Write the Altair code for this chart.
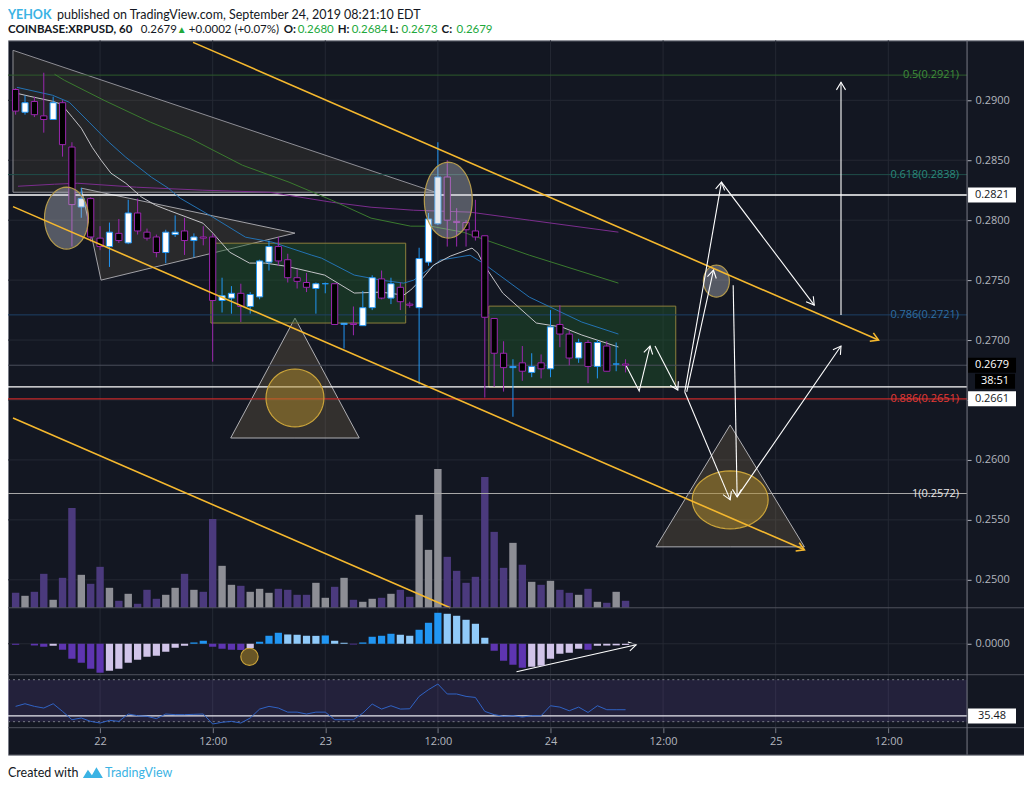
import math
import altair as alt
import pandas as pd

# ------------------------------------------------------------------ data
# hourly candles, first candle = Sep 21 15:00 ; hours counted from Sep 22 00:00
FIRST_HOUR = -9
opens = [0.2909, 0.2890, 0.2899, 0.2887, 0.2884, 0.2898, 0.2861, 0.2811, 0.2818, 0.2785,
         0.2778, 0.2789, 0.2781, 0.2806, 0.2790, 0.2786, 0.2773, 0.2788, 0.2791, 0.2783,
         0.2786, 0.2786, 0.2733, 0.2735, 0.2739, 0.2728, 0.2736, 0.2765, 0.2778, 0.2767,
         0.2752, 0.2748, 0.2743, 0.2747, 0.2747, 0.2713, 0.2714, 0.2712, 0.2727, 0.2751,
         0.2735, 0.2744, 0.2730, 0.2727, 0.2765, 0.2797, 0.2836, 0.2799, 0.2798, 0.2791,
         0.2787, 0.2718, 0.2689, 0.2677, 0.2681, 0.2673, 0.2681, 0.2676, 0.2713, 0.2705,
         0.2685, 0.2698, 0.2678, 0.2695, 0.2680, 0.2680]
highs = [0.2910, 0.2904, 0.2903, 0.2923, 0.2903, 0.2900, 0.2865, 0.2827, 0.2819, 0.2795,
         0.2798, 0.2801, 0.2817, 0.2818, 0.2793, 0.2788, 0.2792, 0.2804, 0.2802, 0.2789,
         0.2795, 0.2789, 0.2752, 0.2745, 0.2747, 0.2740, 0.2767, 0.2783, 0.2786, 0.2772,
         0.2759, 0.2756, 0.2748, 0.2748, 0.2747, 0.2714, 0.2728, 0.2741, 0.2754, 0.2758,
         0.2752, 0.2748, 0.2732, 0.2777, 0.2806, 0.2865, 0.2850, 0.2810, 0.2800, 0.2817,
         0.2787, 0.2718, 0.2699, 0.2684, 0.2695, 0.2689, 0.2688, 0.2725, 0.2729, 0.2708,
         0.2701, 0.2700, 0.2700, 0.2699, 0.2698, 0.2684]
lows = [0.2888, 0.2888, 0.2886, 0.2873, 0.2884, 0.2853, 0.2778, 0.2802, 0.2782, 0.2775,
        0.2761, 0.2781, 0.2780, 0.2788, 0.2783, 0.2769, 0.2764, 0.2786, 0.2771, 0.2769,
        0.2779, 0.2682, 0.2723, 0.2722, 0.2715, 0.2722, 0.2734, 0.2758, 0.2762, 0.2748,
        0.2743, 0.2740, 0.2722, 0.2739, 0.2713, 0.2693, 0.2704, 0.2712, 0.2725, 0.2734,
        0.2730, 0.2725, 0.2727, 0.2663, 0.2762, 0.2796, 0.2778, 0.2778, 0.2778, 0.2783,
        0.2652, 0.2661, 0.2657, 0.2636, 0.2666, 0.2669, 0.2668, 0.2669, 0.2694, 0.2679,
        0.2681, 0.2664, 0.2668, 0.2674, 0.2674, 0.2673]
closes = [0.2891, 0.2898, 0.2888, 0.2884, 0.2898, 0.2863, 0.2813, 0.2818, 0.2786, 0.2778,
          0.2790, 0.2783, 0.2806, 0.2791, 0.2785, 0.2773, 0.2790, 0.2790, 0.2783, 0.2786,
          0.2785, 0.2733, 0.2737, 0.2739, 0.2728, 0.2738, 0.2766, 0.2778, 0.2766, 0.2752,
          0.2749, 0.2744, 0.2747, 0.2747, 0.2713, 0.2714, 0.2713, 0.2727, 0.2752, 0.2735,
          0.2747, 0.2732, 0.2729, 0.2768, 0.2801, 0.2836, 0.2800, 0.2798, 0.2792, 0.2786,
          0.2719, 0.2689, 0.2677, 0.2678, 0.2674, 0.2678, 0.2676, 0.2711, 0.2705, 0.2685,
          0.2698, 0.2678, 0.2698, 0.2674, 0.2680, 0.2679]
# relative volume
volumes = [15, 12, 16, 34, 8, 30, 100, 33, 24, 41, 20, 7, 14, 4, 18, 9, 13, 20, 34, 18,
           16, 89, 42, 23, 22, 16, 19, 15, 19, 18, 13, 13, 25, 10, 21, 30, 8, 6, 9, 10,
           14, 18, 11, 93, 58, 139, 51, 37, 25, 31, 131, 76, 40, 65, 43, 26, 23, 27, 18, 15,
           13, 19, 6, 5, 16, 7]
# MACD histogram (x 1e-5)
macd_hist = [-1, 0, -1.7, -3, -2, -6, -15, -19, -25, -29, -27, -25, -19, -16, -13, -12, -8, -4, -2, 1.3,
             3, -3, -5, -6, -6.2, -4.3, 2, 8, 11, 9.3, 9, 8, 7.9, 8.3, 3, 1, -0.7, 1.3, 7, 8,
             10, 9, 8, 14, 21, 31, 30, 28, 24, 20, 6, -7, -17, -21, -24, -23, -22, -15, -10, -9,
             -5, -6, -2, -1.8, -1.6, -1.2]
rsi_values = [44.6, 47.1, 44.6, 43.0, 47.1, 39.8, 31.9, 33.5, 30.3, 28.7, 31.3, 30.3, 37.3, 35.7, 35.1,
              32.9, 37.3, 36.7, 36.7, 37.0, 37.3, 27.8, 29.4, 30.3, 28.7, 33.5, 42.0, 44.6, 43.0, 39.1,
              39.1, 37.3, 39.1, 39.1, 31.9, 31.9, 31.9, 38.2, 46.8, 42.0, 45.2, 42.0, 42.3, 54.1, 60.5,
              65.9, 56.4, 56.4, 54.1, 53.1, 39.8, 36.7, 35.1, 35.7, 34.4, 35.7, 35.7, 45.2, 43.9, 40.4,
              43.9, 38.8, 45.2, 41.4, 41.4, 41.4]

# moving averages (hour, price)
ma_fast_h = [-8.86, -7.48, -5.06, -4.11, -2.95, -2.0, -0.84, 0.11, 1.16, 2.74, 4.43, 5.90, 7.27, 10.96,
             12.02, 13.81, 15.92, 17.60, 19.71, 21.19, 22.56, 23.93, 27.09, 29.94, 32.36, 33.10, 34.47,
             35.53, 37.32, 39.64, 40.27, 40.80, 42.91, 46.49, 49.23, 51.34, 55.24]
ma_fast_p = [0.29058, 0.29033, 0.28992, 0.28967, 0.28858, 0.28767, 0.28608, 0.2850, 0.28392, 0.28308,
             0.28192, 0.28125, 0.28083, 0.27975, 0.27892, 0.27733, 0.27642, 0.27642, 0.27617, 0.27592,
             0.27567, 0.27542, 0.27392, 0.2740, 0.27375, 0.27417, 0.27525, 0.27625, 0.2770, 0.27767,
             0.27725, 0.27642, 0.27392, 0.27142, 0.27108, 0.27042, 0.26942]
ma_mid_h = [-8.86, -5.06, -3.27, -1.16, 0.95, 2.74, 5.48, 7.27, 8.54, 12.02, 15.50, 18.34, 22.56, 23.61,
            27.09, 29.94, 32.36, 33.42, 34.89, 36.26, 39.43, 40.80, 45.75, 51.34, 55.24]
ma_mid_p = [0.29108, 0.29042, 0.28983, 0.28817, 0.2865, 0.28525, 0.28358, 0.28267, 0.28183, 0.28025,
            0.27858, 0.27817, 0.27708, 0.27683, 0.27542, 0.2750, 0.27475, 0.2750, 0.27583, 0.27667,
            0.27708, 0.27642, 0.27358, 0.2715, 0.2705]
ma_slow_h = [-4.85, -3.80, 0.42, 5.38, 9.59, 15.18, 20.14, 24.67, 28.88, 33.10, 35.21, 38.69, 45.75, 55.24]
ma_slow_p = [0.29217, 0.29167, 0.2900, 0.28817, 0.28683, 0.28458, 0.28317, 0.28167, 0.28017, 0.2795,
             0.2795, 0.2790, 0.27708, 0.27475]
ma_long_h = [-8.75, -4.85, -2.42, 3.90, 10.96, 18.03, 24.67, 28.88, 33.42, 39.43, 45.75, 55.24]
ma_long_p = [0.28283, 0.2830, 0.28308, 0.28275, 0.2825, 0.28233, 0.2815, 0.28108, 0.28083, 0.28067,
             0.2800, 0.2790]

# axis ticks
time_ticks = [0, 12, 24, 36, 48, 60, 72, 84]
time_labels = ["22", "12:00", "23", "12:00", "24", "12:00", "25", "12:00"]
price_ticks = [0.250, 0.255, 0.260, 0.265, 0.270, 0.275, 0.280, 0.285, 0.290]

# horizontal levels
level_prices = [0.2921, 0.2838, 0.2721, 0.2572, 0.2679, 0.2821, 0.2661, 0.2651]
level_colors = ["#2e5a2c", "#1f4e49", "#1d4166", "#a8a8a8", "#4a4e5a", "#ffffff", "#ffffff", "#c62828"]
level_widths = [1, 1, 1, 1, 1, 1.3, 1.3, 1.3]
fib_labels = ["0.5(0.2921)", "0.618(0.2838)", "0.786(0.2721)", "0.886(0.2651)", "1(0.2572)"]
fib_label_prices = [0.2921, 0.2838, 0.2721, 0.2651, 0.2572]
fib_label_colors = ["#3f8f3a", "#2a8a7c", "#2f6fa5", "#e53935", "#e6e6e6"]

# drawings (hour, price)
channel_lines = [[(9.91, 0.29483), (82.96, 0.2700)],
                 [(-9.28, 0.28113), (75.06, 0.2525)],
                 [(-9.28, 0.2635), (37.32, 0.24767)]]
channel_heads = [True, True, False]
arrow_lines = [[(56.08, 0.26783), (57.45, 0.26575), (58.61, 0.2695)],
               [(59.14, 0.2695), (61.57, 0.26583)],
               [(62.31, 0.26567), (66.22, 0.28317)],
               [(66.22, 0.28317), (76.11, 0.27292)],
               [(62.52, 0.26567), (65.37, 0.27583)],
               [(67.47, 0.27458), (67.89, 0.25692)],
               [(62.31, 0.26567), (67.15, 0.25667)],
               [(67.89, 0.25692), (78.96, 0.2695)],
               [(78.96, 0.27208), (78.96, 0.2915)]]
macd_arrow = [(44.38, -28), (57.14, -1)]

rect_h1 = [11.81, 41.43]
rect_h2 = [32.57, 61.35]
rect_p1 = [0.27808, 0.27283]
rect_p2 = [0.27142, 0.26608]

# shaded polygons: x points with top / bottom price
poly_id = ["big", "big", "small", "small", "small", "t1", "t1", "t1", "t2", "t2", "t2"]
poly_h = [-9.28, 35.74, -2.0, 0.105, 20.77, 13.92, 20.77, 27.62, 59.25, 67.15, 75.06]
poly_top = [0.29417, 0.28233, 0.28267, 0.28232, 0.27892, 0.26183, 0.27183, 0.26183, 0.25275, 0.26292, 0.25275]
poly_bot = [0.28233, 0.28233, 0.28267, 0.2750, 0.27892, 0.26183, 0.26183, 0.26183, 0.25275, 0.25275, 0.25275]

# ellipses: centre (hour, price), radii in px
ell_h = [-3.58, 37.11, 65.68, 20.77, 67.15]
ell_p = [0.28017, 0.28167, 0.27492, 0.26517, 0.25667]
ell_rx = [22, 24, 13, 29, 38]
ell_ry = [31, 38, 16, 29, 29]
ell_kind = ["gray", "gray", "gray", "gold", "gold"]

# ------------------------------------------------------------------ layout constants
W, H = 1017, 715
AXIS_X = 960
P_BOT, M_BOT, R_BOT = 568, 635, 688
X_MIN, X_MAX = -9.28, 97.93
P_MIN, P_MAX = 0.247667, 0.295
BG = "#131722"
GRID = "#242833"
TXT = "#b2b5be"
FONT = "Open Sans"
HFONT = "Lato"
PXH = W / (X_MAX - X_MIN)
PXP = P_BOT / (P_MAX - P_MIN)

xs = alt.Scale(domain=[X_MIN, X_MAX], nice=False, zero=False)
ps = alt.Scale(domain=[P_MIN, P_MAX], range=[P_BOT, 0], nice=False, zero=False)
vs = alt.Scale(domain=[0, 150], range=[P_BOT, P_BOT - 150], nice=False, zero=False)
ms = alt.Scale(domain=[-31, 36], range=[M_BOT, P_BOT], nice=False, zero=False)
rs = alt.Scale(domain=[24.29, 74.76], range=[R_BOT, M_BOT], nice=False, zero=False)


def X(f="h"):
    return alt.X(f"{f}:Q", scale=xs, axis=None)


def Y(f, sc):
    return alt.Y(f"{f}:Q", scale=sc, axis=None)


one = pd.DataFrame({"a": [0]})
layers = []

# ---- grids
label_expr = " : ".join(
    [f"datum.value === {v} ? '{t}'" for v, t in zip(time_ticks, time_labels)]) + " : ''"
layers.append(alt.Chart(pd.DataFrame({"h": time_ticks})).mark_rule(color=GRID).encode(
    x=alt.X("h:Q", scale=xs, axis=alt.Axis(orient="bottom", offset=-(H - R_BOT), values=time_ticks,
                                           labelExpr=label_expr, labelColor=TXT, labelFont=FONT,
                                           labelFontSize=11, tickColor="#787b86", tickSize=5,
                                           domain=False, grid=False, labelPadding=3, title=None)),
    y=alt.value(0), y2=alt.value(R_BOT)))
layers.append(alt.Chart(pd.DataFrame({"p": price_ticks})).mark_rule(color=GRID).encode(
    y=alt.Y("p:Q", scale=ps, axis=alt.Axis(orient="right", offset=-(W - AXIS_X), values=price_ticks,
                                           format=".4f", labelColor=TXT, labelFont=FONT, labelFontSize=11,
                                           tickColor=TXT, tickSize=4, domain=False, grid=False,
                                           labelPadding=4, title=None)),
    x=alt.value(0), x2=alt.value(AXIS_X)))

# ---- RSI band
layers.append(alt.Chart(pd.DataFrame({"t": [70], "b": [30]})).mark_rect(fill="#7e57c2", opacity=0.16).encode(
    y=Y("t", rs), y2="b:Q", x=alt.value(0), x2=alt.value(AXIS_X)))
layers.append(alt.Chart(pd.DataFrame({"r": [70, 30]})).mark_rule(color="#787b86", strokeDash=[2, 3]).encode(
    y=Y("r", rs), x=alt.value(0), x2=alt.value(AXIS_X)))
layers.append(alt.Chart(pd.DataFrame({"r": [35.48]})).mark_rule(color="#e8e8f0", strokeWidth=1.3).encode(
    y=Y("r", rs), x=alt.value(0), x2=alt.value(AXIS_X)))

# ---- candle table
n = len(opens)
cd = pd.DataFrame({"h": [FIRST_HOUR + i for i in range(n)], "o": opens, "hi": highs, "lo": lows,
                   "c": closes, "v": volumes, "m": macd_hist, "r": rsi_values})
bull = [c >= o for o, c in zip(opens, closes)]
cd["stroke"] = ["#2196f3" if b else "#9c27b0" for b in bull]
cd["fill"] = ["#ffffff" if b else "#000000" for b in bull]
cd["vcol"] = ["#8d8e95" if b else "#4b3a7d" for b in bull]
mcol = []
for i, m in enumerate(macd_hist):
    prev = macd_hist[i - 1] if i > 0 else 0
    if m >= 0:
        mcol.append("#2196f3" if m >= prev else "#90caf9")
    else:
        mcol.append("#d1c4e9" if m > prev else "#5e35b1")
cd["mcol"] = mcol

# volume
layers.append(alt.Chart(cd).mark_bar(width=7.4).encode(
    x=X(), y=Y("v", vs), y2=alt.datum(0), color=alt.Color("vcol:N", scale=None)))

# shaded polygons
pdf = pd.DataFrame({"id": poly_id, "h": poly_h, "t": poly_top, "b": poly_bot})
poly_style = {"big": (0.13, "#8f8f96"), "small": (0.17, "#a3a3a8"), "t1": (0.24, "#b0b0b4"),
              "t2": (0.24, "#b0b0b4")}
for pid, (op, sc_) in poly_style.items():
    layers.append(alt.Chart(pdf[pdf.id == pid]).mark_area(
        fill="#9a8058", fillOpacity=op, stroke=sc_, strokeWidth=1).encode(
        x=X(), y=alt.Y("t:Q", scale=ps, axis=None, stack=None), y2="b:Q"))

# rectangles
rdf = pd.DataFrame({"h1": rect_h1, "h2": rect_h2, "p1": rect_p1, "p2": rect_p2})
layers.append(alt.Chart(rdf).mark_rect(fill="#1e5a2c", fillOpacity=0.42, stroke="#8d7f3b", strokeWidth=1).encode(
    x=X("h1"), x2="h2:Q", y=Y("p1", ps), y2="p2:Q"))

# level lines
ldf = pd.DataFrame({"p": level_prices, "c": level_colors, "w": level_widths})
layers.append(alt.Chart(ldf).mark_rule().encode(
    y=Y("p", ps), x=alt.value(0), x2=alt.value(AXIS_X), color=alt.Color("c:N", scale=None),
    strokeWidth=alt.StrokeWidth("w:Q", scale=None)))

# moving averages
ma_rows = []
for name, hs, pss, col in [("long", ma_long_h, ma_long_p, "#7b2d8e"), ("slow", ma_slow_h, ma_slow_p, "#3a7a2e"),
                           ("mid", ma_mid_h, ma_mid_p, "#2372b4"), ("fast", ma_fast_h, ma_fast_p, "#c4c4c8")]:
    for k, (hh, pp) in enumerate(zip(hs, pss)):
        ma_rows.append({"id": name, "h": hh, "p": pp, "o": k, "c": col})
layers.append(alt.Chart(pd.DataFrame(ma_rows)).mark_line(strokeWidth=1).encode(
    x=X(), y=Y("p", ps), detail="id:N", order="o:Q", color=alt.Color("c:N", scale=None)))

# candles
layers.append(alt.Chart(cd).mark_rule(strokeWidth=1).encode(
    x=X(), y=Y("lo", ps), y2="hi:Q", color=alt.Color("stroke:N", scale=None)))
layers.append(alt.Chart(cd).mark_bar(width=6.2, strokeWidth=1).encode(
    x=X(), y=Y("o", ps), y2="c:Q", fill=alt.Fill("fill:N", scale=None),
    stroke=alt.Stroke("stroke:N", scale=None)))


# ellipses
def ellipse_path(ratio, steps=48):
    pts = []
    for k in range(steps):
        t = 2 * math.pi * k / steps
        pts.append(f"{ratio * math.cos(t):.3f},{math.sin(t):.3f}")
    return "M" + " L".join(pts) + " Z"


erows = []
for hh, pp, rx, ry, kind in zip(ell_h, ell_p, ell_rx, ell_ry, ell_kind):
    erows.append({"h": hh, "p": pp, "shape": ellipse_path(rx / ry), "size": (2 * ry) ** 2,
                  "fill": "#c3c5cf" if kind == "gray" else "#b08a2a",
                  "fo": 0.38 if kind == "gray" else 0.5,
                  "stroke": "#b49a4c" if kind == "gray" else "#c9a33a"})
layers.append(alt.Chart(pd.DataFrame(erows)).mark_point(filled=True, strokeWidth=1.2, opacity=1).encode(
    x=X(), y=Y("p", ps), shape=alt.Shape("shape:N", scale=None), size=alt.Size("size:Q", scale=None),
    fill=alt.Fill("fill:N", scale=None), fillOpacity=alt.FillOpacity("fo:Q", scale=None),
    stroke=alt.Stroke("stroke:N", scale=None)))
# gold dot in MACD panel
layers.append(alt.Chart(pd.DataFrame({"h": [15.92], "m": [-13]})).mark_point(
    filled=True, shape="circle", size=300, fill="#b08a2a", fillOpacity=0.55, stroke="#c9a33a",
    strokeWidth=1.2, opacity=1).encode(x=X(), y=Y("m", ms)))

# lines + arrowheads
CHEVRON = "M -0.6 1 L 0 0 L 0.6 1"


def head_angle(p0, p1, sy):
    dx = (p1[0] - p0[0]) * PXH
    dy = -(p1[1] - p0[1]) * sy
    return math.degrees(math.atan2(dx, -dy)) % 360


def line_layers(paths, heads, color, width, sc, sy):
    rows, hrows = [], []
    for i, (pts, hd) in enumerate(zip(paths, heads)):
        for k, (hh, pp) in enumerate(pts):
            rows.append({"id": i, "h": hh, "p": pp, "o": k})
        if hd:
            hrows.append({"h": pts[-1][0], "p": pts[-1][1], "a": head_angle(pts[-2], pts[-1], sy)})
    out = [alt.Chart(pd.DataFrame(rows)).mark_line(color=color, strokeWidth=width).encode(
        x=X(), y=Y("p", sc), detail="id:N", order="o:Q")]
    if hrows:
        out.append(alt.Chart(pd.DataFrame(hrows)).mark_point(
            filled=False, shape=CHEVRON, size=230, stroke=color, strokeWidth=width, opacity=1).encode(
            x=X(), y=Y("p", sc), angle=alt.Angle("a:Q", scale=None)))
    return out


layers += line_layers(channel_lines, channel_heads, "#f5b82e", 1.6, ps, PXP)
layers += line_layers(arrow_lines, [True] * len(arrow_lines), "#ffffff", 1.1, ps, PXP)
layers += line_layers([macd_arrow], [True], "#ffffff", 1.1, ms, 1.0)

# MACD
layers.append(alt.Chart(pd.DataFrame({"m": [0]})).mark_rule(color=GRID).encode(
    y=alt.Y("m:Q", scale=ms, axis=alt.Axis(orient="right", offset=-(W - AXIS_X), values=[0], format=".4f",
                                           labelColor=TXT, labelFont=FONT, labelFontSize=11, tickColor=TXT,
                                           tickSize=4, domain=False, grid=False, labelPadding=4, title=None)),
    x=alt.value(0), x2=alt.value(AXIS_X)))
layers.append(alt.Chart(cd).mark_bar(width=7.2).encode(
    x=X(), y=Y("m", ms), y2=alt.datum(0), color=alt.Color("mcol:N", scale=None)))

# RSI line
layers.append(alt.Chart(cd).mark_line(color="#2f62c4", strokeWidth=1).encode(x=X(), y=Y("r", rs)))

# panel separators
for yy in [P_BOT, M_BOT, R_BOT]:
    layers.append(alt.Chart(one).mark_rule(color="#50535e").encode(
        y=alt.value(yy), x=alt.value(0), x2=alt.value(W)))
layers.append(alt.Chart(one).mark_rule(color="#787b86").encode(
    x=alt.value(AXIS_X), y=alt.value(0), y2=alt.value(H)))

# fib labels
fdf = pd.DataFrame({"p": fib_label_prices, "t": fib_labels, "c": fib_label_colors})
layers.append(alt.Chart(fdf).mark_text(align="right", baseline="middle", font=FONT, fontSize=11).encode(
    x=alt.value(AXIS_X - 8), y=Y("p", ps), text="t:N", color=alt.Color("c:N", scale=None)))


# value boxes on the right axis
def box(value, sc, label, fill, tcol, cx, half_w, yoff=0):
    hh = 7.5 / half_w
    path = f"M -1 {-hh:.3f} L 1 {-hh:.3f} L 1 {hh:.3f} L -1 {hh:.3f} Z"
    d = pd.DataFrame({"v": [value], "t": [label]})
    b = alt.Chart(d).mark_point(filled=True, shape=path, size=(2 * half_w) ** 2, fill=fill,
                                opacity=1, strokeWidth=0, yOffset=yoff).encode(
        x=alt.value(cx), y=Y("v", sc))
    t = alt.Chart(d).mark_text(align="center", baseline="middle", font=FONT, fontSize=11, color=tcol,
                               yOffset=yoff).encode(x=alt.value(cx), y=Y("v", sc), text="t:N")
    return [b, t]


layers += box(0.2821, ps, "0.2821", "#ffffff", "#131722", 985, 24)
layers += box(0.2679, ps, "0.2679", "#000000", "#ffffff", 985, 24)
layers += box(0.2679, ps, "38:51", "#000000", "#ffffff", 988, 20, 16)
layers += box(0.2661, ps, "0.2661", "#ffffff", "#131722", 985, 24, 12)
layers += box(35.48, rs, "35.48", "#ffffff", "#131722", 985, 24)

# header / footer text
hdr_text = ["YEHOK", "published on TradingView.com, September 24, 2019 08:21:10 EDT",
            "COINBASE:XRPUSD, 60", "0.2679", "\u25b2", "+0.0002 (+0.07%)", "O:", "0.2680", "H:", "0.2684",
            "L:", "0.2673", "C:", "0.2679", "Created with", "TradingView"]
hdr_x = [8, 57, 8, 141, 177, 189, 284, 298, 338, 352, 390, 402, 442, 457, 8, 105]
hdr_y = [15, 15, 30, 30, 30, 30, 30, 30, 30, 30, 30, 30, 30, 30, 773, 773]
hdr_size = [12.5, 12.5, 11.5, 11.5, 10, 11.5, 11.5, 11.5, 11.5, 11.5, 11.5, 11.5, 11.5, 11.5, 12.5, 12.5]
hdr_col = ["#3bb3e4", "#131722", "#131722", "#131722", "#21a83b", "#131722", "#131722", "#21a83b",
           "#131722", "#21a83b", "#131722", "#21a83b", "#131722", "#21a83b", "#131722", "#3bb3e4"]
hdr_bold = [True, False, True, False, False, False, True, False, True, False, True, False, True, False,
            False, False]
hdf = pd.DataFrame({"t": hdr_text, "x": [v - 8 for v in hdr_x], "y": [v - 40 for v in hdr_y],
                    "c": hdr_col, "b": hdr_bold, "s": hdr_size})
for bold in [True, False]:
    layers.append(alt.Chart(hdf[hdf.b == bold]).mark_text(
        align="left", baseline="middle", font=HFONT,
        fontWeight="bold" if bold else "normal").encode(
        x=alt.X("x:Q", scale=None, axis=None), y=alt.Y("y:Q", scale=None, axis=None), text="t:N",
        size=alt.Size("s:Q", scale=None), color=alt.Color("c:N", scale=None)))
# small logo
layers.append(alt.Chart(one).mark_point(
    filled=True, shape="M -1 0.55 L -0.5 -0.3 L -0.1 0.25 L 0.35 -0.55 L 1 0.55 Z", size=400,
    fill="#3bb3e4", opacity=1).encode(x=alt.value(85), y=alt.value(733)))

chart = alt.layer(*layers).resolve_scale(y="independent").resolve_axis(
    x="independent", y="independent").properties(
    width=W, height=H, autosize="none",
    padding={"left": 0, "top": 32, "right": 0, "bottom": 26}
).configure(background="white").configure_view(fill=BG, stroke="#787b86", strokeWidth=1)

chart.save("out.html", embed_options={"renderer": "svg", "actions": False})
